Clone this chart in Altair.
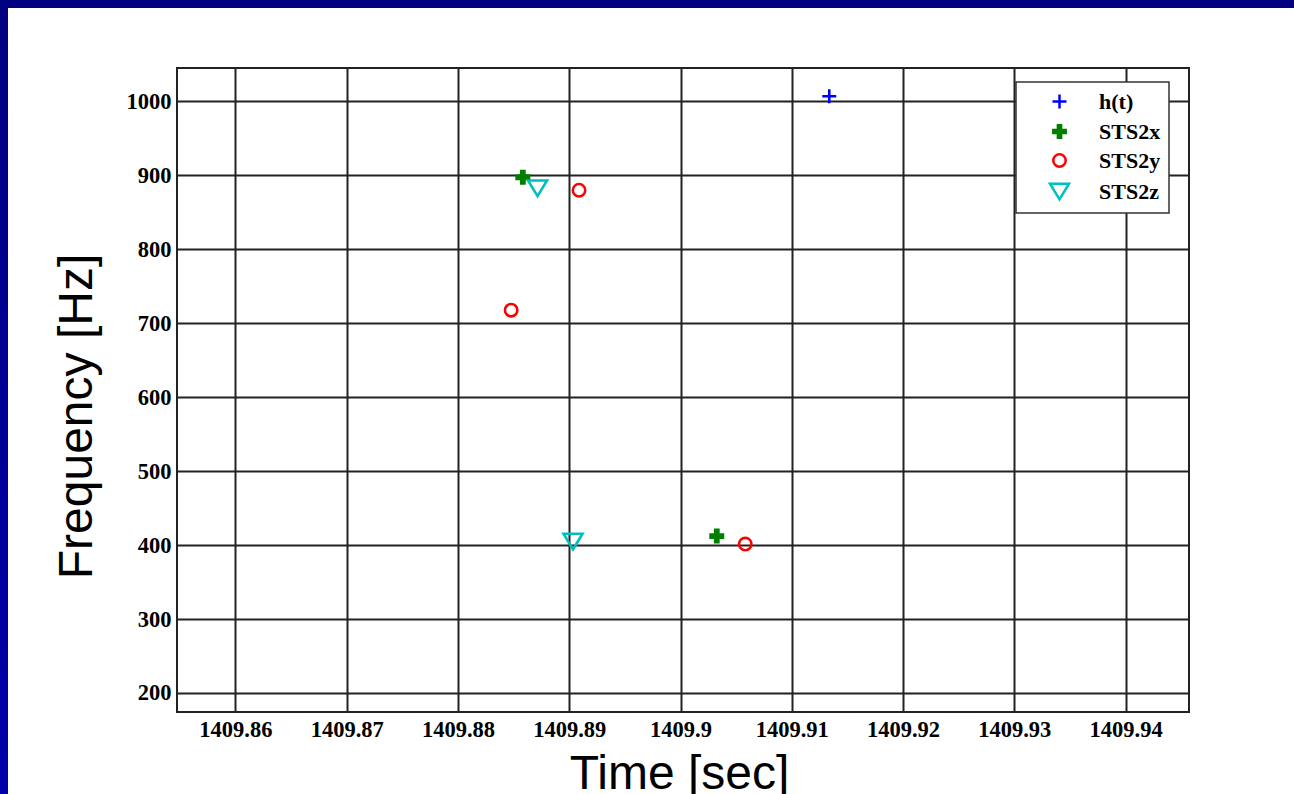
import altair as alt
import pandas as pd

# ---- data ----
series_names = ["h(t)", "STS2x", "STS2y", "STS2z"]
ht_time = [1409.91337]
ht_freq = [1006.8]
x_time = [1409.88583, 1409.90326]
x_freq = [897.3, 412.2]
y_time = [1409.89088, 1409.88478, 1409.90582]
y_freq = [879.7, 717.6, 401.4]
z_time = [1409.88715, 1409.89034]
z_freq = [882.4, 404.7]

x_ticks = [1409.86, 1409.87, 1409.88, 1409.89, 1409.90, 1409.91, 1409.92, 1409.93, 1409.94]
y_ticks = [200, 300, 400, 500, 600, 700, 800, 900, 1000]
x_domain = [1409.854748, 1409.945701]
y_domain = [174.3, 1045.0]

rows = []
for name, ts, fs in [("h(t)", ht_time, ht_freq), ("STS2x", x_time, x_freq),
                     ("STS2y", y_time, y_freq), ("STS2z", z_time, z_freq)]:
    for t, f in zip(ts, fs):
        rows.append({"series": name, "time": t, "freq": f})
df = pd.DataFrame(rows)

# ---- layout ----
W, H = 1012, 644
PL, PT = 177, 68
PR, PB = 1294 - PL - W, 794 - PT - H

plus_path = "M-0.7,0L0.7,0M0,-0.7L0,0.7"
cross_path = ("M-0.62,-0.16L-0.16,-0.16L-0.16,-0.62L0.16,-0.62L0.16,-0.16L0.62,-0.16"
              "L0.62,0.16L0.16,0.16L0.16,0.62L-0.16,0.62L-0.16,0.16L-0.62,0.16Z")
circle_path = "M0.62,0A0.62,0.62 0 1,1 -0.62,0A0.62,0.62 0 1,1 0.62,0Z"
tri_path = "M-0.95,-0.78L0.95,-0.78L0,0.78Z"

legend = alt.Legend(title=None, orient="none", legendX=839, legendY=14,
                    symbolSize=400, symbolStrokeWidth=2.5, symbolOffset=24,
                    labelOffset=28, padding=8, rowPadding=6,
                    labelFont="Liberation Serif", labelFontWeight="bold",
                    labelFontSize=22, labelColor="black",
                    strokeColor="#333333", fillColor="white")

points = alt.Chart(df).mark_point(size=400, strokeWidth=2.6, opacity=1).encode(
    x=alt.X("time:Q",
            scale=alt.Scale(domain=x_domain, nice=False, zero=False),
            axis=alt.Axis(values=x_ticks, format=".2~f", title="Time [sec]",
                          titleX=502, titleY=76, titleBaseline="alphabetic",
                          titleAlign="center")),
    y=alt.Y("freq:Q",
            scale=alt.Scale(domain=y_domain, nice=False, zero=False),
            axis=alt.Axis(values=y_ticks, format="d", title="Frequency [Hz]",
                          titleX=-86, titleY=348, titleAngle=-90,
                          titleBaseline="alphabetic", titleAlign="center")),
    shape=alt.Shape("series:N",
                    scale=alt.Scale(domain=series_names,
                                    range=[plus_path, cross_path, circle_path, tri_path]),
                    legend=legend),
    stroke=alt.Stroke("series:N",
                      scale=alt.Scale(domain=series_names,
                                      range=["#0000ff", "#007f00", "#ff0000", "#00bfbf"]),
                      legend=legend),
    fill=alt.Fill("series:N",
                  scale=alt.Scale(domain=series_names,
                                  range=["transparent", "#007f00", "transparent", "transparent"]),
                  legend=legend),
)

frame_data = alt.Data(values=[{"k": 1}])
top_bar = alt.Chart(frame_data).mark_rect(fill="#000080").encode(
    x=alt.value(-PL), x2=alt.value(1294 - PL), y=alt.value(-PT), y2=alt.value(-PT + 8))
left_bar = alt.Chart(frame_data).mark_rect(
    fill=alt.Gradient(gradient="linear", x1=0, y1=0, x2=0, y2=1,
                      stops=[alt.GradientStop(color="#000080", offset=0),
                             alt.GradientStop(color="#0000aa", offset=1)])
).encode(x=alt.value(-PL), x2=alt.value(-PL + 8), y=alt.value(-PT + 8), y2=alt.value(794 - PT))

chart = alt.layer(top_bar, left_bar, points).properties(
    width=W, height=H,
    autosize=alt.AutoSizeParams(type="none"),
    padding={"left": PL, "top": PT, "right": PR, "bottom": PB},
    background="white",
).configure_view(
    stroke="#222222", strokeWidth=2
).configure_axis(
    grid=True, gridColor="#222222", gridWidth=2, gridOpacity=1,
    ticks=False, domain=False,
    labelFont="Liberation Serif", labelFontWeight="bold", labelFontSize=22.5,
    labelColor="black", labelPadding=6,
    titleFont="Liberation Sans", titleFontWeight="normal", titleFontSize=48,
    titleColor="black",
).configure_legend(strokeWidth=1.5)

chart.save("out.html", embed_options={"renderer": "svg", "actions": False})
